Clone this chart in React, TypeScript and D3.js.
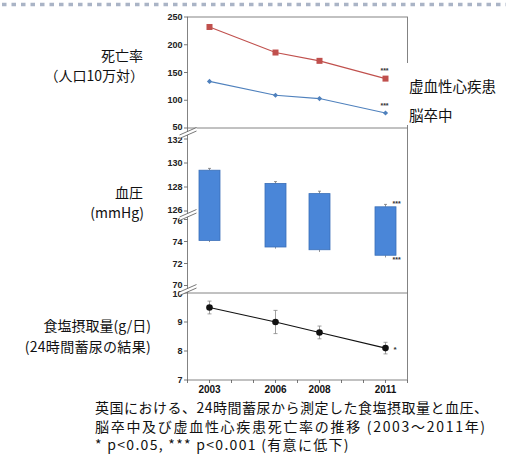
import React from "react";
import * as d3 from "d3";

const years = [2003, 2006, 2008, 2011];
const ihdMortality = [232, 186, 171, 139];
const strokeMortality = [134, 109, 103, 77];
const systolic = [129.4, 128.3, 127.45, 126.35];
const diastolic = [74.1, 73.5, 73.25, 72.75];
const bpErr = [0.15, 0.15, 0.2, 0.2];
const salt = [9.5, 9.0, 8.64, 8.1];
const saltErr = [0.22, 0.4, 0.22, 0.2];
const mortTicks = [50, 100, 150, 200, 250];
const sysTicks = [126, 128, 130, 132];
const diaTicks = [70, 72, 74, 76];
const saltTicks = [7, 8, 9, 10];
const yearLabels = [2003, 2006, 2008, 2011];
const yearTicks = d3.range(2002, 2013);

const captionLines = [
  "英国における、24時間蓄尿から測定した食塩摂取量と血圧、",
  "脳卒中及び虚血性心疾患死亡率の推移 (2003～2011年)",
  "* p<0.05, *** p<0.001 (有意に低下)",
];
const captionSpacing = [0.5, 1.7, 1.3];

const W = 506, H = 454;
const L = 187.5, R = 407.5;
const CJK = "'Noto Sans CJK JP', 'Noto Sans', sans-serif";
const NUM = "'Liberation Sans', Arial, sans-serif";

export default function App() {
  const x = d3.scaleLinear().domain([2002, 2012]).range([L, R]);
  const y1 = d3.scaleLinear().domain([50, 250]).range([128, 17]);
  const y2t = d3.scaleLinear().domain([130, 128]).range([163, 187]);
  const y2b = d3.scaleLinear().domain([70, 76]).range([285.5, 219.5]);
  const y3 = d3.scaleLinear().domain([7, 10]).range([380, 293]);

  const line1 = d3.line<number>().x((_, i) => x(years[i])).y((d) => y1(d));
  const line3 = d3.line<number>().x((_, i) => x(years[i])).y((d) => y3(d));

  const tickLabel = (v: number, y: number, key: string, dy = 0) => (
    <g key={key}>
      <line x1={L - 3.5} x2={L} y1={y} y2={y} stroke="#555" strokeWidth={0.8} />
      <text x={L - 5} y={y + 3 + dy} textAnchor="end" fontFamily={NUM} fontWeight="bold" fontSize={9} fill="#222">{v}</text>
    </g>
  );

  const breakMark = (yc: number, key: string) => (
    <g key={key}>
      <polygon points={`${L - 8},${yc + 5.5} ${L + 9},${yc - 2} ${L + 9},${yc - 5.5} ${L - 8},${yc + 2}`} fill="#fff" />
      <line x1={L - 8} y1={yc + 2} x2={L + 9} y2={yc - 5.5} stroke="#555" strokeWidth={0.8} />
      <line x1={L - 8} y1={yc + 5.5} x2={L + 9} y2={yc - 2} stroke="#555" strokeWidth={0.8} />
    </g>
  );

  return (
    <svg width={W} height={H} style={{ position: "absolute", left: 0, top: 0, background: "#fff" }}>
      <line x1={2} x2={506} y1={4.5} y2={4.5} stroke="#aab4c6" strokeWidth={3.5} strokeDasharray="4.5,5" />

      {/* frames */}
      <rect x={L} y={17} width={R - L} height={380 - 17} fill="none" stroke="#777" strokeWidth={0.9} />
      <line x1={L} x2={R} y1={128} y2={128} stroke="#777" strokeWidth={0.9} />
      <line x1={L} x2={R} y1={293} y2={293} stroke="#777" strokeWidth={0.9} />

      {/* panel 1 */}
      {mortTicks.map((t) => tickLabel(t, y1(t), "m" + t, t === 50 ? -1 : 0))}
      <path d={line1(ihdMortality) || ""} fill="none" stroke="#c0504d" strokeWidth={1.1} />
      <path d={line1(strokeMortality) || ""} fill="none" stroke="#4f81bd" strokeWidth={1.1} />
      {ihdMortality.map((v, i) => (
        <rect key={"r" + i} x={x(years[i]) - 3} y={y1(v) - 3} width={6} height={6} fill="#c0504d" />
      ))}
      {strokeMortality.map((v, i) => (
        <path key={"b" + i} d={`M${x(years[i])},${y1(v) - 2.6} l2.6,2.6 l-2.6,2.6 l-2.6,-2.6 z`} fill="#4f81bd" />
      ))}
      <text x={x(2011) - 1} y={y1(ihdMortality[3]) - 6} textAnchor="middle" fontFamily={NUM} fontWeight="bold" fontSize={7} fill="#333">***</text>
      <text x={x(2011) - 1} y={y1(strokeMortality[3]) - 5} textAnchor="middle" fontFamily={NUM} fontWeight="bold" fontSize={7} fill="#333">***</text>

      {/* legend labels with white background */}
      <rect x={406} y={63} width={100} height={62} fill="#fff" />
      <text x={409} y={92} fontFamily={CJK} fontSize={14.5} fill="#111">虚血性心疾患</text>
      <text x={409} y={121} fontFamily={CJK} fontSize={14.5} fill="#111">脳卒中</text>

      {/* panel 2 */}
      {sysTicks.map((t) => tickLabel(t, y2t(t), "s" + t, t === 132 ? 1 : t === 126 ? -1 : 0))}
      {diaTicks.map((t) => tickLabel(t, y2b(t), "d" + t, t === 70 ? -1 : t === 76 ? 1 : 0))}
      {years.map((yr, i) => {
        const cx = x(yr);
        const top = y2t(systolic[i]);
        const bot = y2b(diastolic[i]);
        return (
          <g key={"bar" + i}>
            <line x1={cx} x2={cx} y1={y2t(systolic[i] + bpErr[i])} y2={top} stroke="#777" strokeWidth={0.8} />
            <line x1={cx - 1.5} x2={cx + 1.5} y1={y2t(systolic[i] + bpErr[i])} y2={y2t(systolic[i] + bpErr[i])} stroke="#777" strokeWidth={0.8} />
            <line x1={cx} x2={cx} y1={bot} y2={y2b(diastolic[i] - bpErr[i])} stroke="#777" strokeWidth={0.8} />
            <rect x={cx - 10.5} y={top} width={21} height={bot - top} fill="#4a86d8" stroke="#3a6fb8" strokeWidth={0.8} />
          </g>
        );
      })}
      <text x={x(2011) + 7} y={y2t(systolic[3]) - 1} fontFamily={NUM} fontWeight="bold" fontSize={7} fill="#333">***</text>
      <text x={x(2011) + 7} y={y2b(diastolic[3]) + 7} fontFamily={NUM} fontWeight="bold" fontSize={7} fill="#333">***</text>

      {/* panel 3 */}
      {saltTicks.map((t) => tickLabel(t, y3(t), "n" + t, t === 10 ? 1 : 0))}
      {years.map((yr, i) => {
        const cx = x(yr);
        const a = y3(salt[i] + saltErr[i]);
        const b = y3(salt[i] - saltErr[i]);
        return (
          <g key={"e" + i}>
            <line x1={cx} x2={cx} y1={a} y2={b} stroke="#888" strokeWidth={0.8} />
            <line x1={cx - 2} x2={cx + 2} y1={a} y2={a} stroke="#888" strokeWidth={0.8} />
            <line x1={cx - 2} x2={cx + 2} y1={b} y2={b} stroke="#888" strokeWidth={0.8} />
          </g>
        );
      })}
      <path d={line3(salt) || ""} fill="none" stroke="#111" strokeWidth={1.1} />
      {salt.map((v, i) => (
        <circle key={"c" + i} cx={x(years[i])} cy={y3(v)} r={3.3} fill="#111" />
      ))}
      <text x={x(2011) + 8} y={y3(salt[3]) + 4} fontFamily={NUM} fontWeight="bold" fontSize={8} fill="#333">*</text>

      {/* breaks */}
      {breakMark(133, "br1")}
      {breakMark(215, "br2")}
      {breakMark(290, "br3")}

      {/* x axis */}
      {yearTicks.map((t) => (
        <line key={"xt" + t} x1={x(t)} x2={x(t)} y1={380} y2={383} stroke="#555" strokeWidth={0.8} />
      ))}
      {yearLabels.map((t) => (
        <text key={"xl" + t} x={x(t)} y={393} textAnchor="middle" fontFamily={NUM} fontWeight="bold" fontSize={10} fill="#111">{t}</text>
      ))}

      {/* axis titles */}
      <text x={143} y={61} textAnchor="end" fontFamily={CJK} fontSize={14} fill="#111">死亡率</text>
      <text x={144} y={81} textAnchor="end" fontFamily={CJK} fontSize={14} fill="#111">（人口10万対）</text>
      <text x={143} y={198} textAnchor="end" fontFamily={CJK} fontSize={14} fill="#111">血圧</text>
      <text x={144} y={218} textAnchor="end" fontFamily={CJK} fontSize={14} fill="#111">(mmHg)</text>
      <text x={151} y={331} textAnchor="end" fontFamily={CJK} fontSize={14} fill="#111">食塩摂取量(g/日)</text>
      <text x={151} y={352} textAnchor="end" fontFamily={CJK} fontSize={14} fill="#111" letterSpacing={0.3}>(24時間蓄尿の結果)</text>

      {/* caption */}
      {captionLines.map((s, i) => (
        <text key={"cap" + i} x={95} y={413 + i * 18.5} fontFamily={CJK} fontSize={14} fill="#111"
          letterSpacing={captionSpacing[i]}>{s}</text>
      ))}
    </svg>
  );
}
